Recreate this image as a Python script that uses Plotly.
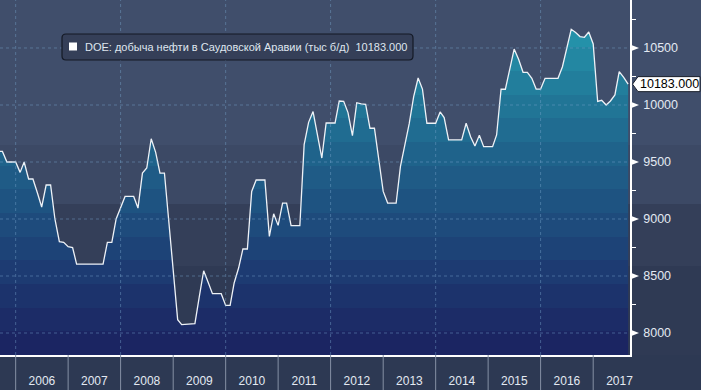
import pandas as pd
import plotly.graph_objects as go

# ---------------- data ----------------
start_month = "2005-09-01"
production = [
    9593, 9593, 9500, 9500,                                  # 2005 Sep-Dec
    9500, 9409, 9500, 9351, 9351, 9230, 9105, 9298, 9298, 9000, 8801, 8795,   # 2006
    8757, 8750, 8605, 8605, 8605, 8605, 8605, 8605, 8605, 8795, 8795, 9000,   # 2007
    9100, 9198, 9198, 9198, 9096, 9403, 9447, 9704, 9584, 9403, 9403, 8974,   # 2008
    8546, 8117, 8073, 8075, 8078, 8082, 8314, 8546, 8445, 8345, 8345, 8345,   # 2009
    8242, 8242, 8439, 8570, 8737, 8737, 9242, 9342, 9342, 9342, 8847, 9046,   # 2010
    8944, 9140, 9140, 8941, 8941, 8941, 9652, 9848, 9942, 9740, 9535, 9842,   # 2011
    9842, 9842, 10035, 10032, 9933, 9731, 10020, 10009, 10006, 9796, 9796, 9519,  # 2012
    9242, 9140, 9140, 9140, 9462, 9652, 9836, 10073, 10237, 10140, 9840, 9840,   # 2013
    9840, 9939, 9890, 9694, 9694, 9694, 9694, 9840, 9722, 9640, 9734, 9634,   # 2014
    9634, 9634, 9737, 10138, 10138, 10315, 10491, 10401, 10287, 10287, 10234, 10140,  # 2015
    10140, 10234, 10234, 10234, 10234, 10336, 10500, 10664, 10636, 10600, 10594, 10640,  # 2016
    10535, 10031, 10041, 10000, 10035, 10088, 10292, 10243, 10183,            # 2017
]
dates = pd.date_range(start_month, periods=len(production), freq="MS")
last_value = production[-1]

series_name = "DOE: добыча нефти в Саудовской Аравии (тыс б/д)"
legend_text = f"{series_name}  {last_value:.3f}"
value_label = f"{last_value:.3f}"

y_ticks = [8000, 8500, 9000, 9500, 10000, 10500]
y_tick_labels = [str(v) for v in y_ticks]
y_minor = [8250, 8750, 9250, 9750, 10250, 10750]
year_ticks = [f"{y}-01-01" for y in range(2006, 2018)]
grid_years = [f"{y}-01-01" for y in range(2006, 2018, 2)]

# ---------------- layout constants ----------------
W, H = 701, 390
PL, PR, PT, PB = 0, 71, 0, 35
PW, PH = W - PL - PR, H - PT - PB
Y_RANGE = [7807, 10921]
X_RANGE = ["2005-09-14", "2017-09-14"]
U_PER_PX = (Y_RANGE[1] - Y_RANGE[0]) / PH
FONT = "Liberation Sans, Arial, sans-serif"


def px(x):
    return (x - PL) / PW


def py(y):
    return 1 - (y - PT) / PH


band_colors = ["#1b2562", "#1c2c67", "#1c336c", "#1d3b72", "#1d4377", "#1e4b7c",
               "#1e5381", "#1f5b86", "#1f638b", "#206c91", "#217596", "#227e9c",
               "#2387a2", "#2491a9", "#2699b0"]
n = len(band_colors)
cscale = []
for i, c in enumerate(band_colors):
    cscale.append([i / n, c])
    cscale.append([(i + 1) / n if i < n - 1 else 1.0, c])

fig = go.Figure()
fig.add_trace(go.Scatter(
    x=dates, y=production, mode="lines",
    line=dict(color="#eef2f7", width=1.3),
    fill="tozeroy",
    fillgradient=dict(type="vertical", colorscale=cscale,
                      start=Y_RANGE[0], stop=Y_RANGE[1]),
    hoverinfo="skip", showlegend=False,
))

shapes = []
# background bands (whole figure)
bg_bands = [(0, 145, "#404e6b"), (145, 204, "#3c4965"), (204, 266, "#343f59"),
            (266, 355, "#2f3a54"), (355, 391, "#2d3953")]
for y0, y1, c in bg_bands:
    shapes.append(dict(type="rect", xref="paper", yref="paper", x0=px(-2), x1=px(W + 2),
                       y0=py(y1), y1=py(y0), fillcolor=c, line=dict(width=0), layer="below"))

grid_col = "rgba(120,165,205,0.45)"
for v in y_ticks:
    shapes.append(dict(type="line", xref="paper", yref="y", x0=0, x1=1, y0=v, y1=v,
                       line=dict(color=grid_col, width=1, dash="3px,3px"), layer="above"))
for d in grid_years:
    shapes.append(dict(type="line", xref="x", yref="paper", x0=d, x1=d, y0=0, y1=1,
                       line=dict(color=grid_col, width=1, dash="3px,3px"), layer="above"))
# year separators below the plot
for d in year_ticks:
    shapes.append(dict(type="line", xref="x", yref="paper", x0=d, x1=d, y0=0, y1=py(H),
                       line=dict(color="#8590a4", width=1), layer="above"))
# triangle markers at major y ticks
for v in y_ticks:
    shapes.append(dict(type="path", xref="paper", yref="y",
                       path=f"M {px(630)},{v + 3.5 * U_PER_PX} L {px(639)},{v} L {px(630)},{v - 3.5 * U_PER_PX} Z",
                       fillcolor="white", line=dict(width=0), layer="above"))
# last value label box
yl = last_value
hh = 7.5 * U_PER_PX
shapes.append(dict(type="path", xref="paper", yref="y",
                   path=(f"M {px(632.5)},{yl} L {px(638)},{yl + hh} L {px(700)},{yl + hh} "
                         f"L {px(700)},{yl - hh} L {px(638)},{yl - hh} Z"),
                   fillcolor="white", line=dict(color="#1a1f2b", width=1), layer="above"))
# legend box with rounded corners
lx0, lx1, ly0, ly1, r = 62, 413, 34, 60, 4
path = (f"M {px(lx0 + r)},{py(ly0)} L {px(lx1 - r)},{py(ly0)} Q {px(lx1)},{py(ly0)} {px(lx1)},{py(ly0 + r)} "
        f"L {px(lx1)},{py(ly1 - r)} Q {px(lx1)},{py(ly1)} {px(lx1 - r)},{py(ly1)} "
        f"L {px(lx0 + r)},{py(ly1)} Q {px(lx0)},{py(ly1)} {px(lx0)},{py(ly1 - r)} "
        f"L {px(lx0)},{py(ly0 + r)} Q {px(lx0)},{py(ly0)} {px(lx0 + r)},{py(ly0)} Z")
shapes.append(dict(type="path", xref="paper", yref="paper", path=path,
                   fillcolor="#353f58", line=dict(color="#141925", width=1.2), layer="above"))
shapes.append(dict(type="rect", xref="paper", yref="paper", x0=px(69), x1=px(77), y0=py(50.5), y1=py(42.5),
                   fillcolor="white", line=dict(width=0), layer="above"))

annotations = [
    dict(xref="paper", yref="paper", x=px(83), y=py(47), xanchor="left", yanchor="middle",
         text=legend_text, showarrow=False,
         font=dict(family=FONT, size=11, color="#dfe6ef")),
    dict(xref="paper", yref="y", x=px(669), y=yl, xanchor="center", yanchor="middle",
         text=value_label, showarrow=False,
         font=dict(family=FONT, size=12.5, color="black")),
]

fig.update_layout(
    width=W, height=H,
    margin=dict(l=PL, r=PR, t=PT, b=PB, pad=0, autoexpand=False),
    paper_bgcolor="#2d3953", plot_bgcolor="rgba(0,0,0,0)",
    shapes=shapes, annotations=annotations, showlegend=False,
    xaxis=dict(type="date", range=X_RANGE, tick0="2006-01-01", dtick="M12",
               ticklabelmode="period", tickformat="%Y", ticks="", showgrid=False,
               showline=True, linecolor="white", linewidth=1.5, zeroline=False,
               automargin=False, ticklabelstandoff=14,
               tickfont=dict(family=FONT, size=12, color="#e3e9f2")),
    yaxis=dict(side="right", range=Y_RANGE, tickvals=y_ticks, ticktext=y_tick_labels,
               ticks="outside", ticklen=4,
               tickcolor="white", showgrid=False, zeroline=False,
               showline=True, linecolor="white", linewidth=1.5,
               automargin=False, ticklabelstandoff=5,
               minor=dict(tickvals=y_minor, ticks="outside", ticklen=4, tickcolor="white"),
               tickfont=dict(family=FONT, size=12.5, color="#e3e9f2")),
)

fig.write_html(
    "out.html",
    config={"displayModeBar": False},
    post_script="document.body.style.margin='0';document.body.style.overflow='hidden';",
)
